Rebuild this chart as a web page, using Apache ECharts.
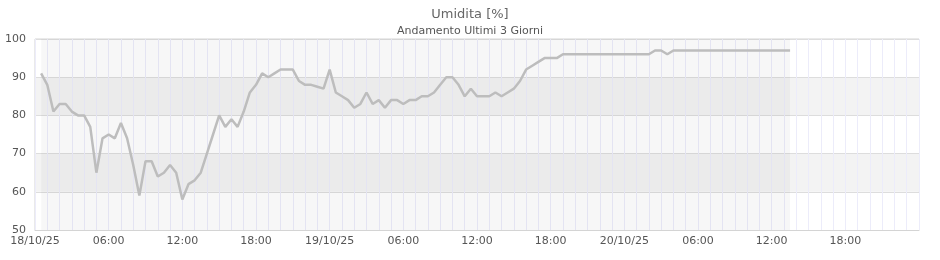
<!DOCTYPE html>
<html>
<head>
<meta charset="utf-8">
<script src="https://cdn.jsdelivr.net/npm/echarts@6/dist/echarts.min.js"></script>
<style>
html,body{margin:0;padding:0;background:#fff;}
#chart{width:940px;height:260px;}
</style>
</head>
<body>
<div id="chart"></div>
<script>
// ---- data ----
var titleText = 'Umidita [%]';
var subtitleText = 'Andamento Ultimi 3 Giorni';
var axisStart = Date.UTC(2025, 9, 18, 0, 0, 0);   // 18/10/25 00:00
var axisEnd = Date.UTC(2025, 9, 21, 0, 0, 0);     // 21/10/25 00:00
var firstSample = Date.UTC(2025, 9, 18, 0, 30, 0);
var sampleStepMin = 30;
var humidity = [
  91, 88, 81, 83, 83, 81, 80, 80, 77, 65,
  74, 75, 74, 78, 74, 67, 59, 68, 68, 64,
  65, 67, 65, 58, 62, 63, 65, 70, 75, 80,
  77, 79, 77, 81, 86, 88, 91, 90, 91, 92,
  92, 92, 89, 88, 88, 87.5, 87, 92, 86, 85,
  84, 82, 83, 86, 83, 84, 82, 84, 84, 83,
  84, 84, 85, 85, 86, 88, 90, 90, 88, 85,
  87, 85, 85, 85, 86, 85, 86, 87, 89, 92,
  93, 94, 95, 95, 95, 96,
  96, 96, 96, 96, 96, 96, 96, 96, 96, 96, 96, 96, 96, 96,
  97, 97, 96, 97,
  97, 97, 97, 97, 97, 97, 97, 97, 97, 97, 97, 97, 97, 97, 97, 97, 97, 97, 97
];
var yMin = 50, yMax = 100, yStep = 10;

// ---- build ----
var seriesData = humidity.map(function (v, i) {
  return [firstSample + i * sampleStepMin * 60000, v];
});
var lastSample = seriesData[seriesData.length - 1][0];

function pad(n) { return (n < 10 ? '0' : '') + n; }
function fmtTime(v) {
  var d = new Date(v);
  var h = d.getUTCHours(), m = d.getUTCMinutes();
  if (h === 0 && m === 0) {
    return pad(d.getUTCDate()) + '/' + pad(d.getUTCMonth() + 1) + '/' + String(d.getUTCFullYear()).slice(2);
  }
  return pad(h) + ':' + pad(m);
}

var FONT = 'DejaVu Sans';
var VLINE = '#ececfa';
var chart = echarts.init(document.getElementById('chart'), null, { renderer: 'canvas' });
chart.setOption({
  animation: false,
  backgroundColor: '#ffffff',
  textStyle: { fontFamily: FONT },
  title: {
    text: titleText,
    subtext: subtitleText,
    left: 'center',
    top: 3,
    itemGap: 5,
    textStyle: { fontFamily: FONT, fontSize: 13, fontWeight: 'normal', color: '#666666' },
    subtextStyle: { fontFamily: FONT, fontSize: 11, color: '#555555' }
  },
  grid: {
    left: 35, right: 21, top: 39, bottom: 30,
    show: true, borderColor: '#d4d4d4', borderWidth: 1, backgroundColor: 'transparent'
  },
  xAxis: {
    type: 'value',
    min: axisStart,
    max: axisEnd,
    interval: 6 * 3600000,
    axisLine: { show: true, lineStyle: { color: '#d4d4d4' } },
    axisTick: { show: false },
    axisLabel: {
      formatter: fmtTime, color: '#555555', fontFamily: FONT, fontSize: 11,
      margin: 6, showMaxLabel: false
    },
    splitLine: { show: true, lineStyle: { color: VLINE, width: 1 } },
    minorTick: { show: false, splitNumber: 6 },
    minorSplitLine: { show: true, lineStyle: { color: VLINE, width: 1 } }
  },
  yAxis: {
    type: 'value',
    min: yMin, max: yMax, interval: yStep,
    axisLine: { show: false },
    axisTick: { show: false },
    axisLabel: { color: '#555555', fontFamily: FONT, fontSize: 11, margin: 9 },
    splitLine: { show: true, lineStyle: { color: '#dddddd', width: 1 } },
    splitArea: { show: true, areaStyle: { color: ['#ffffff', '#f3f3f3'] } }
  },
  series: [{
    type: 'line',
    data: seriesData,
    showSymbol: false,
    symbol: 'none',
    lineStyle: { color: '#bdbdbd', width: 2.5 },
    z: 3,
    markArea: {
      silent: true,
      itemStyle: { color: 'rgba(0,0,0,0.032)' },
      data: [[{ xAxis: firstSample }, { xAxis: lastSample }]]
    }
  }]
});
</script>
</body>
</html>
